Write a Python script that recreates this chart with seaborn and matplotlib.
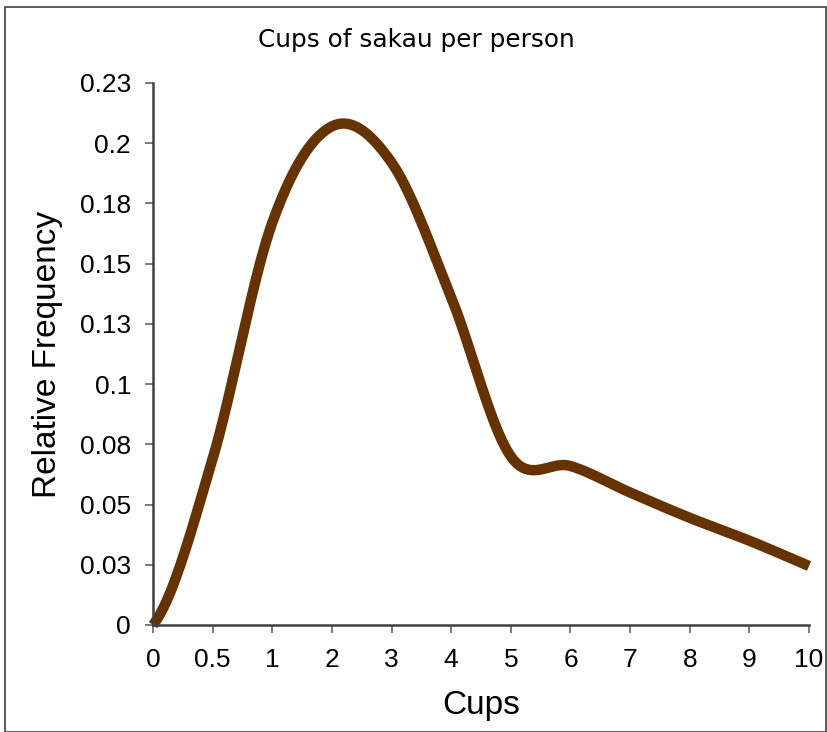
import numpy as np
import pandas as pd
import matplotlib
matplotlib.use("Agg")
import matplotlib.pyplot as plt
from matplotlib.patches import Rectangle
import seaborn as sns

# ---- data ----
categories = ["0", "0.5", "1", "2", "3", "4", "5", "6", "7", "8", "9", "10"]
rel_freq = [0.0, 0.069, 0.167, 0.207, 0.192, 0.136, 0.070, 0.066, 0.055, 0.0445, 0.035, 0.0245]
y_ticks = [0, 0.025, 0.05, 0.075, 0.1, 0.125, 0.15, 0.175, 0.2, 0.225]
y_tick_labels = ["0", "0.03", "0.05", "0.08", "0.1", "0.13", "0.15", "0.18", "0.2", "0.23"]

sns.set_theme(style="white")
plt.rcParams["font.family"] = ["Liberation Sans", "DejaVu Sans"]

fig = plt.figure(figsize=(8.27, 7.32), dpi=100)
W, H = 827, 732
ax = fig.add_axes([153 / W, 1 - 625 / H, (809 - 153) / W, (625 - 83) / H])

# smoothed line (Excel-style Bezier smoothing through category points)
pos = np.arange(len(categories), dtype=float)
yv = np.asarray(rel_freq, dtype=float)
xs, ys = [], []
n = len(pos)
t = np.linspace(0, 1, 40)
for i in range(n - 1):
    p0 = np.array([pos[i], yv[i]])
    p3 = np.array([pos[i + 1], yv[i + 1]])
    if i == 0:
        c1 = p0 + (p3 - p0) / 3.0 * np.array([1.0, 0.45])
    else:
        pm = np.array([pos[i - 1], yv[i - 1]])
        c1 = p0 + (p3 - pm) / 6.0
    if i == n - 2:
        c2 = p3 - (p3 - p0) / 3.0
    else:
        pp = np.array([pos[i + 2], yv[i + 2]])
        c2 = p3 - (pp - p0) / 6.0
    b = ((1 - t) ** 3)[:, None] * p0 + (3 * (1 - t) ** 2 * t)[:, None] * c1 \
        + (3 * (1 - t) * t ** 2)[:, None] * c2 + (t ** 3)[:, None] * p3
    if i > 0:
        b = b[1:]
    xs.extend(b[:, 0])
    ys.extend(b[:, 1])
curve = pd.DataFrame({"pos": xs, "freq": ys})
sns.lineplot(data=curve, x="pos", y="freq", ax=ax, color="#663300",
             linewidth=7.5, solid_capstyle="butt", sort=False, clip_on=False)

ax.set_xlim(0, n - 1)
ax.set_ylim(0, 0.225)
ax.set_xticks(pos)
ax.set_xticklabels(categories)
ax.set_yticks(y_ticks)
ax.set_yticklabels(y_tick_labels)

for s in ["top", "right"]:
    ax.spines[s].set_visible(False)
for s in ["left", "bottom"]:
    ax.spines[s].set_color("#404040")
    ax.spines[s].set_linewidth(1.8)

ax.tick_params(axis="both", which="major", direction="out", length=5.8,
               width=1.3, color="#707070", labelsize=19, labelcolor="black",
               left=True, bottom=True)
ax.tick_params(axis="y", pad=10)
ax.tick_params(axis="x", pad=11)

ax.set_xlabel("Cups", fontsize=24, labelpad=13, color="black")
ax.set_ylabel("Relative Frequency", fontsize=24, labelpad=12, color="black")

fig.text(416 / W, 1 - 40 / H, "Cups of sakau per person",
         family=["DejaVu Sans"], fontsize=17.8,
         ha="center", va="center", color="black")

fig.patches.append(Rectangle((4.5 / W, 0.5 / H), (825.5 - 4.5) / W, (724.5) / H,
                             transform=fig.transFigure, fill=False,
                             edgecolor="#404040", linewidth=1.2))

fig.savefig("out.png", dpi=100)
